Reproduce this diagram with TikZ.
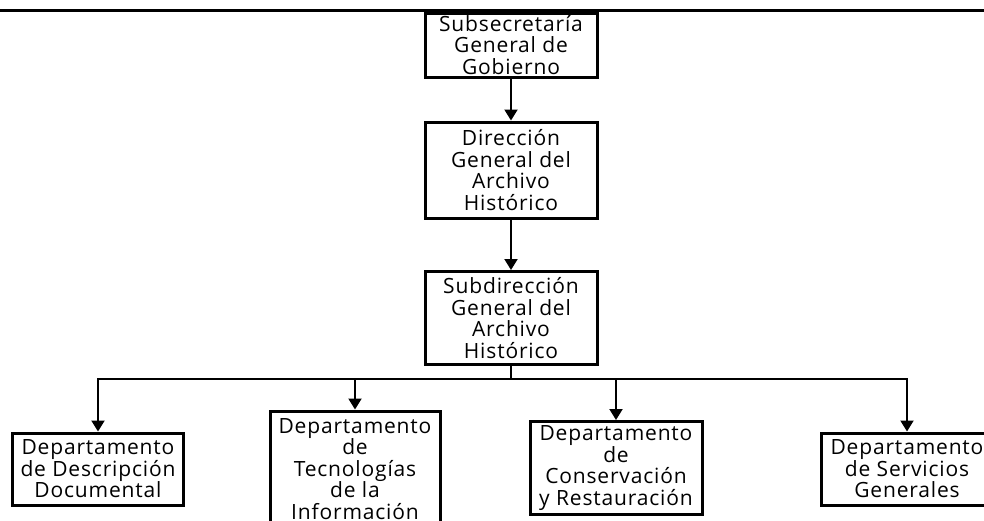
\documentclass[tikz,border=0pt]{standalone}
\usepackage{fontspec}
\setmainfont{Open Sans}[LetterSpace=4]
\usetikzlibrary{arrows.meta}
\tikzset{every node/.style={font=\fontsize{21}{21.5}\selectfont, align=center, inner sep=0pt},
  unit/.style={draw, line width=3pt, minimum width=172pt},
  link/.style={line width=2pt, -{Triangle[length=11pt,width=13pt]}}}

\begin{document}
\begin{tikzpicture}[x=1pt,y=-1pt]
   \useasboundingbox (0,0) rectangle (984,520);
   \draw[line width=3pt] (0,10) -- (984,10);
   % chain from the top
   \node[unit, minimum height=64pt] (sub)    at (511,45)  {Subsecretaría\\General de\\Gobierno};
   \node[unit, minimum height=96pt] (dir)    at (511,170) {Dirección\\General del\\Archivo\\Histórico};
   \node[unit, minimum height=93pt] (subdir) at (511,318) {Subdirección\\General del\\Archivo\\Histórico};
   % departments
   \node[unit, minimum width=171pt, minimum height=72pt]  (desc) at ( 98,469) {Departamento\\de Descripción\\Documental};
   \node[unit, minimum width=170pt, minimum height=116pt] (tec)  at (355,469) {Departamento\\de\\Tecnologías\\de la\\Información};
   \node[unit, minimum height=93pt]                       (cons) at (616,468) {Departamento\\de\\Conservación\\y Restauración};
   \node[unit, minimum height=72pt]                       (serv) at (907,469) {Departamento\\de Servicios\\Generales};
   \coordinate (bus) at (511,379);
   \draw[link] (sub) -- (dir);
   \draw[link] (dir) -- (subdir);
   \draw[link] (subdir.south) -- (bus) -| (desc.north);
   \draw[link] (subdir.south) -- (bus) -| (tec.north);
   \draw[link] (subdir.south) -- (bus) -| (cons.north);
   \draw[link] (subdir.south) -- (bus) -| (serv.north);
\end{tikzpicture}
\end{document}
